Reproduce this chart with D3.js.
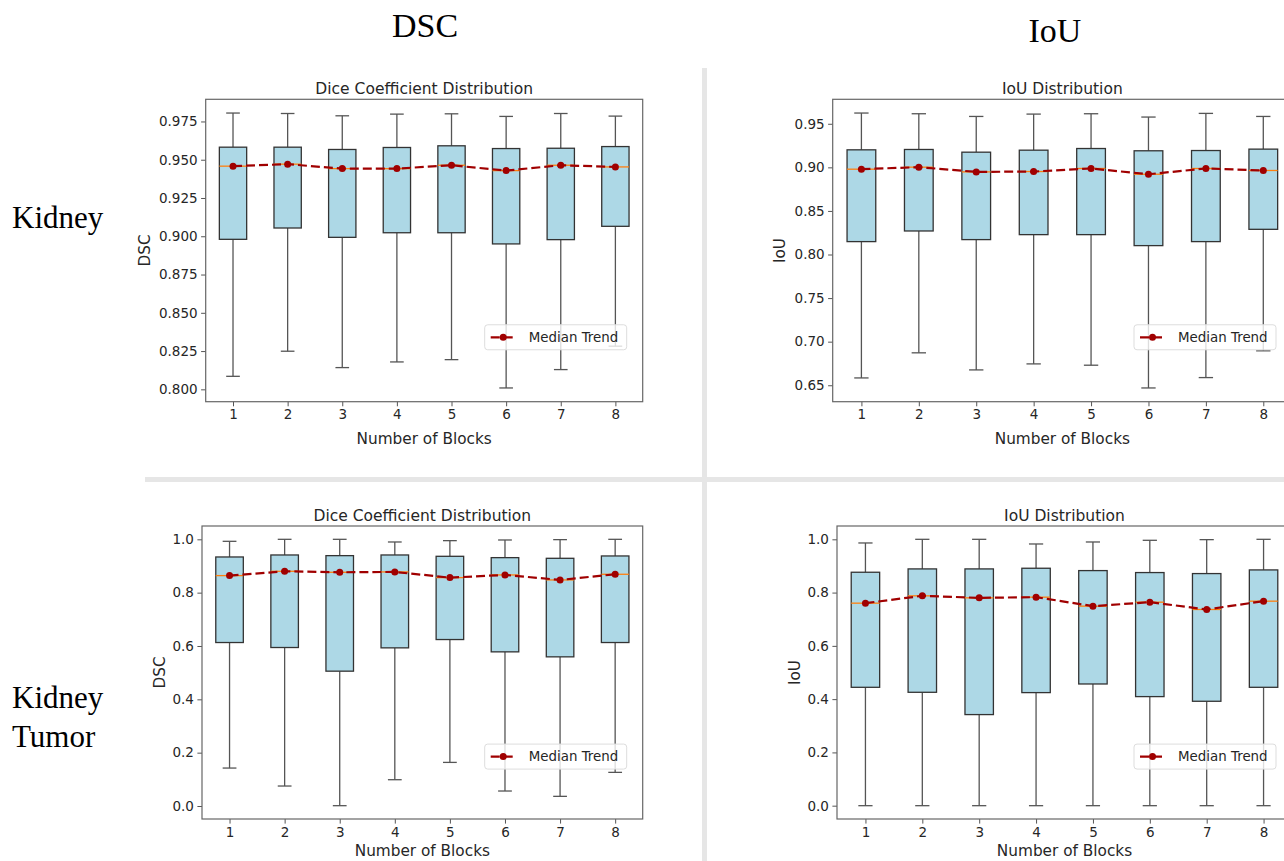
<!DOCTYPE html>
<html>
<head>
<meta charset="utf-8">
<script src="https://cdn.jsdelivr.net/npm/d3@7"></script>
<style>
  body { margin: 0; background: #fff; }
  svg { display: block; }
</style>
</head>
<body>
<svg id="chart" width="1284" height="861"></svg>
<script>
// number of blocks on the x axis
const blocks = [1, 2, 3, 4, 5, 6, 7, 8];

// Kidney - DSC (whisker low, Q1, median, Q3, whisker high)
const kidneyDscLow  = [0.8085, 0.8249, 0.8142, 0.8179, 0.8194, 0.8009, 0.8129, 0.8282];
const kidneyDscQ1   = [0.8980, 0.9054, 0.8993, 0.9023, 0.9023, 0.8950, 0.8978, 0.9065];
const kidneyDscMed  = [0.9458, 0.9471, 0.9442, 0.9442, 0.9464, 0.9429, 0.9464, 0.9453];
const kidneyDscQ3   = [0.9582, 0.9582, 0.9567, 0.9580, 0.9591, 0.9573, 0.9575, 0.9586];
const kidneyDscHigh = [0.9805, 0.9802, 0.9787, 0.9798, 0.9800, 0.9783, 0.9802, 0.9785];

// Kidney - IoU
const kidneyIouLow  = [0.6584, 0.6872, 0.6676, 0.6745, 0.6730, 0.6469, 0.6588, 0.6895];
const kidneyIouQ1   = [0.8148, 0.8270, 0.8171, 0.8228, 0.8228, 0.8102, 0.8148, 0.8289];
const kidneyIouMed  = [0.8979, 0.9002, 0.8948, 0.8952, 0.8987, 0.8921, 0.8987, 0.8964];
const kidneyIouQ3   = [0.9201, 0.9205, 0.9174, 0.9197, 0.9216, 0.9190, 0.9193, 0.9209];
const kidneyIouHigh = [0.9623, 0.9615, 0.9584, 0.9611, 0.9615, 0.9577, 0.9619, 0.9584];

// Kidney Tumor - DSC
const tumorDscLow  = [0.1423, 0.0749, 0.0012, 0.0986, 0.1635, 0.0562, 0.0362, 0.1261];
const tumorDscQ1   = [0.6130, 0.5943, 0.5056, 0.5930, 0.6242, 0.5780, 0.5593, 0.6130];
const tumorDscMed  = [0.8639, 0.8801, 0.8764, 0.8777, 0.8564, 0.8664, 0.8477, 0.8689];
const tumorDscQ3   = [0.9338, 0.9413, 0.9388, 0.9413, 0.9363, 0.9313, 0.9288, 0.9376];
const tumorDscHigh = [0.9925, 1.0000, 1.0000, 0.9900, 0.9950, 0.9975, 0.9988, 1.0000];

// Kidney Tumor - IoU
const tumorIouLow  = [0, 0, 0, 0, 0, 0, 0, 0];
const tumorIouQ1   = [0.4444, 0.4257, 0.3420, 0.4245, 0.4569, 0.4095, 0.3920, 0.4444];
const tumorIouMed  = [0.7603, 0.7878, 0.7803, 0.7828, 0.7491, 0.7640, 0.7366, 0.7678];
const tumorIouQ3   = [0.8764, 0.8889, 0.8889, 0.8914, 0.8826, 0.8752, 0.8714, 0.8851];
const tumorIouHigh = [0.9863, 1.0000, 1.0000, 0.9825, 0.9900, 0.9963, 0.9988, 1.0000];

// tick labels
const kidneyDscTicks = [0.800, 0.825, 0.850, 0.875, 0.900, 0.925, 0.950, 0.975];
const kidneyIouTicks = [0.65, 0.70, 0.75, 0.80, 0.85, 0.90, 0.95];
const tumorTicks = [0.0, 0.2, 0.4, 0.6, 0.8, 1.0];

const svg = d3.select("#chart");
svg.append("rect").attr("width", 1284).attr("height", 861).attr("fill", "#fff");

const font = "'DejaVu Sans', sans-serif";
const serif = "'Liberation Serif', 'Times New Roman', serif";

// grey separators between the four panels
svg.append("rect").attr("x", 702).attr("y", 68).attr("width", 5).attr("height", 793).attr("fill", "#e6e6e6");
svg.append("rect").attr("x", 145).attr("y", 477).attr("width", 1139).attr("height", 5).attr("fill", "#e6e6e6");

// row / column headers
svg.append("text").attr("x", 425).attr("y", 37).attr("text-anchor", "middle")
  .style("font-family", serif).style("font-size", "34px").text("DSC");
svg.append("text").attr("x", 1055).attr("y", 42).attr("text-anchor", "middle")
  .style("font-family", serif).style("font-size", "34px").text("IoU");
svg.append("text").attr("x", 12).attr("y", 228)
  .style("font-family", serif).style("font-size", "31px").text("Kidney");
svg.append("text").attr("x", 12).attr("y", 708)
  .style("font-family", serif).style("font-size", "31px").text("Kidney");
svg.append("text").attr("x", 12).attr("y", 747)
  .style("font-family", serif).style("font-size", "31px").text("Tumor");

function drawPanel(p) {
  const data = blocks.map((b, i) => ({
    block: b, low: p.low[i], q1: p.q1[i], med: p.med[i], q3: p.q3[i], high: p.high[i]
  }));

  const x = d3.scaleLinear().domain([0.5, 8.5]).range([p.left, p.right]);
  // matplotlib style 5% margins around the data
  const lo = d3.min(data, d => d.low), hi = d3.max(data, d => d.high);
  const pad = (hi - lo) * 0.05;
  const y = d3.scaleLinear().domain([lo - pad, hi + pad]).range([p.bottom, p.top]);

  const g = svg.append("g");
  const step = x(2) - x(1);
  const bw = step * 0.5;

  // title
  g.append("text").attr("x", (p.left + p.right) / 2).attr("y", p.top - 5)
    .attr("text-anchor", "middle").attr("fill", "#262626")
    .style("font-family", font).style("font-size", "15.5px").text(p.title);

  // axes
  const xAxis = g.append("g").attr("transform", `translate(0,${p.bottom})`)
    .call(d3.axisBottom(x).tickValues(blocks).tickFormat(d3.format("d")).tickSize(4.6).tickPadding(3.5));
  const yAxis = g.append("g").attr("transform", `translate(${p.left},0)`)
    .call(d3.axisLeft(y).tickValues(p.ticks).tickFormat(d3.format(p.fmt)).tickSize(4.6).tickPadding(3.5));
  [xAxis, yAxis].forEach(a => {
    a.select(".domain").remove();
    a.selectAll("line").attr("stroke", "#555");
    a.selectAll("text").attr("fill", "#262626").style("font-family", font).style("font-size", "13.5px");
  });

  // whiskers + caps
  const bx = g.append("g").selectAll("g").data(data).enter().append("g");
  bx.append("line").attr("x1", d => x(d.block)).attr("x2", d => x(d.block))
    .attr("y1", d => y(d.low)).attr("y2", d => y(d.q1)).attr("stroke", "#555").attr("stroke-width", 1.3);
  bx.append("line").attr("x1", d => x(d.block)).attr("x2", d => x(d.block))
    .attr("y1", d => y(d.q3)).attr("y2", d => y(d.high)).attr("stroke", "#555").attr("stroke-width", 1.3);
  bx.append("line").attr("x1", d => x(d.block) - bw / 4).attr("x2", d => x(d.block) + bw / 4)
    .attr("y1", d => y(d.low)).attr("y2", d => y(d.low)).attr("stroke", "#555").attr("stroke-width", 1.3);
  bx.append("line").attr("x1", d => x(d.block) - bw / 4).attr("x2", d => x(d.block) + bw / 4)
    .attr("y1", d => y(d.high)).attr("y2", d => y(d.high)).attr("stroke", "#555").attr("stroke-width", 1.3);
  // boxes
  bx.append("rect").attr("x", d => x(d.block) - bw / 2).attr("width", bw)
    .attr("y", d => y(d.q3)).attr("height", d => y(d.q1) - y(d.q3))
    .attr("fill", "#add8e6").attr("stroke", "#333").attr("stroke-width", 1.3);
  // median lines
  bx.append("line").attr("x1", d => x(d.block) - bw / 2).attr("x2", d => x(d.block) + bw / 2)
    .attr("y1", d => y(d.med)).attr("y2", d => y(d.med)).attr("stroke", "#ff7f0e").attr("stroke-width", 1.3);

  // median trend
  const line = d3.line().x(d => x(d.block)).y(d => y(d.med));
  g.append("path").datum(data).attr("d", line).attr("fill", "none")
    .attr("stroke", "#a00000").attr("stroke-width", 2.2).attr("stroke-dasharray", "9,4");
  g.selectAll(".dot").data(data).enter().append("circle")
    .attr("cx", d => x(d.block)).attr("cy", d => y(d.med)).attr("r", 3.5).attr("fill", "#a00000");

  // frame
  g.append("rect").attr("x", p.left).attr("y", p.top)
    .attr("width", p.right - p.left).attr("height", p.bottom - p.top)
    .attr("fill", "none").attr("stroke", "#666").attr("stroke-width", 1.2);

  // axis labels
  g.append("text").attr("x", (p.left + p.right) / 2).attr("y", p.xLabelY)
    .attr("text-anchor", "middle").attr("fill", "#262626")
    .style("font-family", font).style("font-size", "15.3px").text("Number of Blocks");
  g.append("text").attr("transform", `translate(${p.yLabelX},${(p.top + p.bottom) / 2}) rotate(-90)`)
    .attr("text-anchor", "middle").attr("fill", "#262626")
    .style("font-family", font).style("font-size", "15.3px").text(p.yLabel);

  // legend
  const lw = 142, lh = 25;
  const lx = p.right - 16 - lw;
  const ly = p.top + (p.bottom - p.top) * 0.787 - lh / 2;
  const leg = g.append("g").attr("transform", `translate(${lx},${ly})`);
  leg.append("rect").attr("width", lw).attr("height", lh).attr("rx", 3)
    .attr("fill", "#fff").attr("fill-opacity", 0.8).attr("stroke", "#ddd");
  leg.append("line").attr("x1", 6).attr("x2", 31).attr("y1", lh / 2).attr("y2", lh / 2)
    .attr("stroke", "#a00000").attr("stroke-width", 2.2).attr("stroke-dasharray", "9,4");
  leg.append("circle").attr("cx", 18.5).attr("cy", lh / 2).attr("r", 3.5).attr("fill", "#a00000");
  leg.append("text").attr("x", 44).attr("y", lh / 2 + 4.8).attr("fill", "#262626")
    .style("font-family", font).style("font-size", "13.4px").text("Median Trend");
}

drawPanel({ title: "Dice Coefficient Distribution", yLabel: "DSC",
  low: kidneyDscLow, q1: kidneyDscQ1, med: kidneyDscMed, q3: kidneyDscQ3, high: kidneyDscHigh,
  ticks: kidneyDscTicks, fmt: ".3f",
  left: 205.7, right: 642.7, top: 99.3, bottom: 401.7, xLabelY: 444, yLabelX: 150 });

drawPanel({ title: "IoU Distribution", yLabel: "IoU",
  low: kidneyIouLow, q1: kidneyIouQ1, med: kidneyIouMed, q3: kidneyIouQ3, high: kidneyIouHigh,
  ticks: kidneyIouTicks, fmt: ".2f",
  left: 832.7, right: 1292, top: 99.3, bottom: 401.7, xLabelY: 444, yLabelX: 785 });

drawPanel({ title: "Dice Coefficient Distribution", yLabel: "DSC",
  low: tumorDscLow, q1: tumorDscQ1, med: tumorDscMed, q3: tumorDscQ3, high: tumorDscHigh,
  ticks: tumorTicks, fmt: ".1f",
  left: 202, right: 642.7, top: 526, bottom: 819, xLabelY: 856, yLabelX: 165 });

drawPanel({ title: "IoU Distribution", yLabel: "IoU",
  low: tumorIouLow, q1: tumorIouQ1, med: tumorIouMed, q3: tumorIouQ3, high: tumorIouHigh,
  ticks: tumorTicks, fmt: ".1f",
  left: 837, right: 1292, top: 526, bottom: 819, xLabelY: 856, yLabelX: 800 });
</script>
</body>
</html>
